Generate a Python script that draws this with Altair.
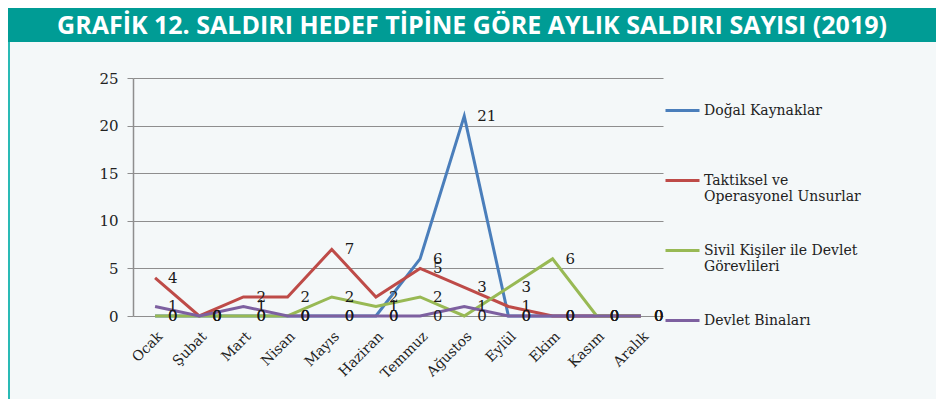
import altair as alt
import pandas as pd

title_text = "GRAFİK 12. SALDIRI HEDEF TİPİNE GÖRE AYLIK SALDIRI SAYISI (2019)"
months = ["Ocak", "Şubat", "Mart", "Nisan", "Mayıs", "Haziran",
          "Temmuz", "Ağustos", "Eylül", "Ekim", "Kasım", "Aralık"]
series_names = ["Doğal Kaynaklar|",
                "Taktiksel ve|Operasyonel Unsurlar",
                "Sivil Kişiler ile Devlet|Görevlileri",
                "Devlet Binaları|"]
series_colors = ["#4A7EBB", "#BE4B48", "#98B954", "#7D60A0"]
dogal = [0, 0, 0, 0, 0, 0, 6, 21, 0, 0, 0, 0]
taktik = [4, 0, 2, 2, 7, 2, 5, 3, 1, 0, 0, 0]
sivil = [0, 0, 0, 0, 2, 1, 2, 0, 3, 6, 0, 0]
devlet = [1, 0, 1, 0, 0, 0, 0, 1, 0, 0, 0, 0]
y_ticks = [0, 5, 10, 15, 20, 25]

rows = []
for k, (name, vals) in enumerate(zip(series_names, [dogal, taktik, sivil, devlet])):
    for m, v in zip(months, vals):
        rows.append({"ay": m, "seri": name, "deger": v, "sira": k})
df = pd.DataFrame(rows)

SERIF = "DejaVu Serif"
TEAL = "#009C95"

x_enc = alt.X("ay:N", sort=months, scale=alt.Scale(padding=0.5),
              axis=alt.Axis(title=None, labelAngle=-45, labelFont=SERIF, labelFontSize=14,
                            labelColor="#222222", ticks=False, domain=False, labelPadding=13))
y_enc = alt.Y("deger:Q", scale=alt.Scale(domain=[0, 25], nice=False),
              axis=alt.Axis(title=None, values=y_ticks, grid=True, gridColor="#8E8E8E",
                            gridWidth=1.2, domainColor="#8E8E8E", domainWidth=1.5,
                            tickColor="#8E8E8E", tickSize=6, labelFont=SERIF,
                            labelFontSize=15, labelColor="#222222", labelPadding=9))
color_enc = alt.Color("seri:N", scale=alt.Scale(domain=series_names, range=series_colors),
                      legend=alt.Legend(title=None, orient="none", legendX=531, legendY=14,
                                        symbolType="stroke", symbolSize=1156,
                                        symbolStrokeWidth=3, rowPadding=28,
                                        labelFont=SERIF, labelFontSize=14,
                                        labelColor="#222222", labelOffset=3,
                                        labelLimit=300,
                                        labelExpr="split(datum.label, '|')"))

base = alt.Chart(df)
lines = base.mark_line(strokeWidth=3).encode(
    x=x_enc, y=y_enc, color=color_enc, detail="sira:N")
labels = base.mark_text(align="left", baseline="middle", dx=13, font=SERIF,
                        fontSize=15, color="#1a1a1a").encode(
    x=alt.X("ay:N", sort=months), y="deger:Q", text="deger:Q")

head_df = pd.DataFrame({"t": [title_text]})
header = alt.Chart(head_df).mark_rect(color=TEAL).encode(
    x=alt.value(-125), x2=alt.value(803), y=alt.value(-70), y2=alt.value(-36))
header_text = alt.Chart(head_df).mark_text(color="white", font="Open Sans", fontWeight="bold",
                                           fontSize=25, align="center", baseline="middle").encode(
    x=alt.value(339), y=alt.value(-52), text="t:N")
border = alt.Chart(head_df).mark_rule(color="#2ABAB5", strokeWidth=2).encode(
    x=alt.value(-124), y=alt.value(-36), y2=alt.value(321))

chart = alt.layer(header, header_text, border, lines, labels).properties(
    width=530, height=238,
    autosize=alt.AutoSizeParams(type="none"),
    padding={"left": 125, "top": 70, "right": 273, "bottom": 83},
    background="#F4F8F9",
).configure_view(stroke=None)

chart.save("out.html", embed_options={"renderer": "svg", "actions": False})
